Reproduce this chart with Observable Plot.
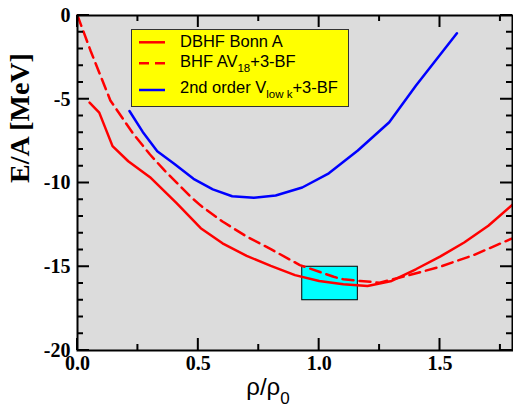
<!DOCTYPE html>
<html><head><meta charset="utf-8">
<script src="https://cdn.jsdelivr.net/npm/d3@7"></script>
<script src="https://cdn.jsdelivr.net/npm/@observablehq/plot@0.6"></script>
<style>
body{margin:0;background:#fff;}
#wrap{position:relative;width:513px;height:409px;overflow:hidden;}
#legend{position:absolute;left:131px;top:29px;}
</style></head>
<body><div id="wrap"></div>
<script>
// ---- data ----
const xMajor = [0, 0.5, 1.0, 1.5];
const xMinor = [0.25, 0.75, 1.25, 1.75];
const yMajor = [0, -5, -10, -15, -20];
const yMinor = [-1, -2, -3, -4, -6, -7, -8, -9, -11, -12, -13, -14, -16, -17, -18, -19];

const dbhfX = [0.05, 0.09, 0.145, 0.21, 0.30, 0.41, 0.51, 0.60, 0.70, 0.80, 0.90, 1.00, 1.10, 1.20, 1.30, 1.40, 1.50, 1.60, 1.70, 1.80];
const dbhfY = [-5.2, -5.8, -7.8, -8.7, -9.65, -11.2, -12.7, -13.6, -14.35, -14.95, -15.5, -15.85, -16.05, -16.15, -15.85, -15.15, -14.4, -13.55, -12.55, -11.3];

const bhfX = [0, 0.054, 0.136, 0.23, 0.30, 0.36, 0.47, 0.51, 0.60, 0.70, 0.80, 0.92, 1.06, 1.10, 1.17, 1.25, 1.36, 1.50, 1.64, 1.80];
const bhfY = [0, -2.1, -5.07, -7.05, -8.3, -9.25, -10.85, -11.35, -12.3, -13.2, -13.95, -14.9, -15.6, -15.75, -15.85, -15.95, -15.55, -15.0, -14.3, -13.3];

const vlowX = [0.215, 0.27, 0.33, 0.40, 0.48, 0.56, 0.64, 0.73, 0.82, 0.93, 1.04, 1.16, 1.29, 1.40, 1.57];
const vlowY = [-5.7, -6.95, -8.1, -8.85, -9.75, -10.38, -10.79, -10.88, -10.75, -10.27, -9.42, -8.06, -6.37, -4.2, -1.06];

const boxX = [0.93, 1.16];
const boxY = [-17, -15];

const toRows = (xs, ys) => xs.map((x, i) => ({x, y: ys[i]}));
const dbhf = toRows(dbhfX, dbhfY);
const bhf = toRows(bhfX, bhfY);
const vlow = toRows(vlowX, vlowY);
const box = [{x1: boxX[0], x2: boxX[1], y1: boxY[0], y2: boxY[1]}];

const serif = "'Liberation Serif', 'Times New Roman', serif";
const sans = "'Liberation Sans', Arial, sans-serif";

const W = 513, H = 409, ML = 77, MR = 1, MT = 15, MB = 59;
const xDom = [0, 1.8], yDom = [-20, 0];
const lab = {fontSize: 20, fontWeight: "bold", fontFamily: serif, fill: "black"};

const plot = Plot.plot({
  width: W, height: H,
  marginLeft: ML, marginRight: MR, marginTop: MT, marginBottom: MB,
  style: {background: "#fff"},
  x: {domain: xDom, axis: null},
  y: {domain: yDom, axis: null},
  marks: [
    Plot.frame({fill: "#dcdcdc"}),
    Plot.rect(box, {x1: "x1", x2: "x2", y1: "y1", y2: "y2", fill: "#00ffff", stroke: "black", strokeWidth: 1}),
    Plot.line(vlow, {x: "x", y: "y", stroke: "#0000ff", strokeWidth: 2.5}),
    Plot.line(bhf, {x: "x", y: "y", stroke: "#ff0000", strokeWidth: 2.5, strokeDasharray: "11,6"}),
    Plot.line(dbhf, {x: "x", y: "y", stroke: "#ff0000", strokeWidth: 2.5}),
    Plot.text(xMajor, {x: d => d, text: d3.format(".1f"), frameAnchor: "bottom", lineAnchor: "top", dy: 5, ...lab}),
    Plot.text(yMajor, {y: d => d, text: d => String(d), frameAnchor: "left", textAnchor: "end", dx: -7, ...lab}),
    Plot.frame({stroke: "black", strokeWidth: 2}),
    Plot.text(["E/A [MeV]"], {frameAnchor: "left", text: d => d, rotate: -90, dx: -57,
      fontSize: 28, fontWeight: "bold", fontFamily: serif, fill: "black"})
  ]
});

const wrap = document.getElementById("wrap");
wrap.appendChild(plot);
const svg = d3.select(plot);

// inward ticks on all four sides, placed through Plot's own scales
try {
  const sx = plot.scale("x"), sy = plot.scale("y");
  const X = v => sx.apply(v), Y = v => sy.apply(v);
  const top = Y(yDom[1]), bottom = Y(yDom[0]), left = X(xDom[0]), right = X(xDom[1]);
  const g = svg.append("g").attr("stroke", "black").attr("stroke-width", 2);
  const tx = (vals, len) => vals.forEach(v => {
    g.append("line").attr("x1", X(v)).attr("x2", X(v)).attr("y1", bottom).attr("y2", bottom - len);
    g.append("line").attr("x1", X(v)).attr("x2", X(v)).attr("y1", top).attr("y2", top + len);
  });
  const ty = (vals, len) => vals.forEach(v => {
    g.append("line").attr("y1", Y(v)).attr("y2", Y(v)).attr("x1", left).attr("x2", left + len);
    g.append("line").attr("y1", Y(v)).attr("y2", Y(v)).attr("x1", right).attr("x2", right - len);
  });
  tx(xMajor, 12); tx(xMinor, 6); ty(yMajor, 12); ty(yMinor, 6);
} catch (e) {}

// x title with subscript
const xt = svg.append("text").attr("x", 268).attr("y", 395)
  .attr("font-family", sans).attr("font-size", 24).attr("fill", "black");
xt.append("tspan").text("ρ/ρ");
xt.append("tspan").attr("font-size", 17).attr("dy", 9).text("0");

// legend
const lg = d3.select(wrap).append("svg").attr("id", "legend").attr("width", 220).attr("height", 80);
lg.append("rect").attr("x", 0.5).attr("y", 0.5).attr("width", 217).attr("height", 77)
  .attr("fill", "#ffff00").attr("stroke", "#333").attr("stroke-width", 1);
const rows = [
  {ly: 13.3, ty: 18, color: "#ff0000", dash: null, parts: [["DBHF Bonn A", 0]]},
  {ly: 34.3, ty: 37.7, color: "#ff0000", dash: "10,6", parts: [["BHF AV", 0], ["18", 1], ["+3-BF", 0]]},
  {ly: 61, ty: 63.7, color: "#0000ff", dash: null, parts: [["2nd order V", 0], ["low k", 1], ["+3-BF", 0]]}
];
rows.forEach(r => {
  lg.append("line").attr("x1", 8).attr("x2", 34).attr("y1", r.ly).attr("y2", r.ly)
    .attr("stroke", r.color).attr("stroke-width", 2.5).attr("stroke-dasharray", r.dash);
  const t = lg.append("text").attr("x", 49).attr("y", r.ty).attr("font-family", sans)
    .attr("font-size", 16.5).attr("fill", "black");
  let sub = false;
  r.parts.forEach(([s, isSub]) => {
    const ts = t.append("tspan").text(s);
    if (isSub && !sub) { ts.attr("font-size", 11.5).attr("dy", 5); sub = true; }
    else if (!isSub && sub) { ts.attr("dy", -5); sub = false; }
  });
});
</script>
</body></html>
